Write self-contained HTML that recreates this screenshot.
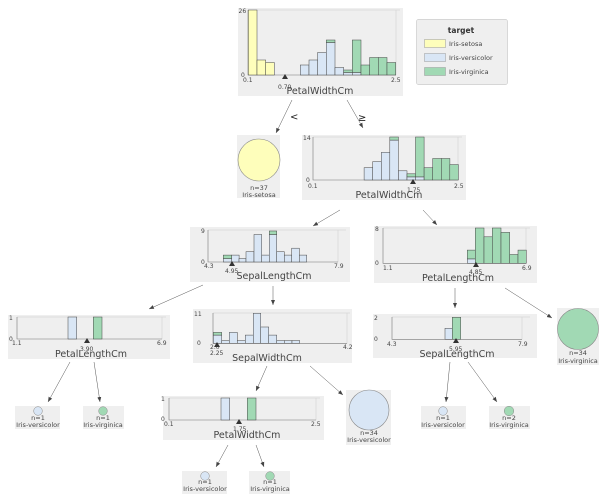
<!DOCTYPE html>
<html><head><meta charset="utf-8"><style>
html,body{margin:0;padding:0;background:#fff;}
svg{display:block;font-family:"DejaVu Sans","Liberation Sans",sans-serif;}
.p{fill:#efefef;}
.s{fill:#fefebb;stroke:#444;stroke-width:.5}
.v{fill:#d9e6f5;stroke:#444;stroke-width:.5}
.g{fill:#a1d9b4;stroke:#444;stroke-width:.5}
.ax{stroke:#777;stroke-width:.6;fill:none}
.lt{stroke:#d8d8d8;stroke-width:.8;fill:none}
.t{font-size:6px;fill:#444}
.l{font-size:9.5px;fill:#444}
.lf{font-size:6.5px;fill:#444}
.e{stroke:#555;stroke-width:.5;fill:none;marker-end:url(#ah)}
</style></head><body>
<svg width="606" height="502" viewBox="0 0 606 502" xmlns="http://www.w3.org/2000/svg">
<defs><marker id="ah" markerWidth="6" markerHeight="6" refX="5" refY="3" orient="auto" markerUnits="userSpaceOnUse"><path d="M0,1 L5,3 L0,5 z" fill="#444"/></marker></defs>

<!-- root -->
<rect class="p" x="238" y="8" width="165" height="88"/>
<path class="lt" d="M248,10 H400 M396,10 V75"/>
<path class="ax" d="M248,10 V75 H396"/>
<rect class="s" x="248.3" y="10" width="8.7" height="65"/>
<rect class="s" x="257" y="60" width="8.7" height="15"/>
<rect class="s" x="265.6" y="62.5" width="8.7" height="12.5"/>
<rect class="v" x="300.3" y="65" width="8.7" height="10"/>
<rect class="v" x="309" y="60" width="8.7" height="15"/>
<rect class="v" x="317.6" y="52.5" width="8.7" height="22.5"/>
<rect class="v" x="326.3" y="42.5" width="8.7" height="32.5"/><rect class="g" x="326.3" y="40" width="8.7" height="2.5"/>
<rect class="v" x="335" y="67.5" width="8.7" height="7.5"/>
<rect class="v" x="343.6" y="72.5" width="8.7" height="2.5"/><rect class="g" x="343.6" y="70" width="8.7" height="2.5"/>
<rect class="v" x="352.3" y="72.5" width="8.7" height="2.5"/><rect class="g" x="352.3" y="40" width="8.7" height="32.5"/>
<rect class="g" x="361" y="65" width="8.7" height="10"/>
<rect class="g" x="369.6" y="57.5" width="8.7" height="17.5"/>
<rect class="g" x="378.3" y="57.5" width="8.7" height="17.5"/>
<rect class="g" x="387" y="62.5" width="8.7" height="12.5"/>
<text class="t" x="238.5" y="13">26</text><text class="t" x="241" y="77">0</text>
<text class="t" x="243" y="82">0.1</text><text class="t" x="391" y="82">2.5</text>
<path d="M285,74 L282,79 L288,79 z" fill="#333"/>
<text class="t" x="278" y="89">0.70</text>
<text class="l" x="320" y="94" text-anchor="middle">PetalWidthCm</text>

<!-- legend -->
<rect x="416.5" y="19.5" width="91" height="65" rx="2" fill="#efefef" stroke="#ccc" stroke-width=".7"/>
<text x="461" y="33" font-size="7.5" font-weight="bold" fill="#333" text-anchor="middle">target</text>
<rect x="424.5" y="39.5" width="21" height="8" fill="#fefebb" stroke="#999" stroke-width=".5"/>
<rect x="424.5" y="53.5" width="21" height="8" fill="#d9e6f5" stroke="#999" stroke-width=".5"/>
<rect x="424.5" y="67.5" width="21" height="8" fill="#a1d9b4" stroke="#999" stroke-width=".5"/>
<text class="lf" x="449" y="46">Iris-setosa</text>
<text class="lf" x="449" y="60">Iris-versicolor</text>
<text class="lf" x="449" y="74">Iris-virginica</text>

<!-- root edges -->
<path class="e" d="M292,100 L276,133"/>
<path class="e" d="M347,100 L363,128"/>
<text x="290" y="120" font-size="10" fill="#222">&lt;</text>
<text x="358" y="121" font-size="10" fill="#222">≥</text>

<!-- leaf setosa -->
<rect class="p" x="237" y="135" width="43" height="63"/>
<circle cx="259" cy="160" r="21" fill="#fefebb" stroke="#888" stroke-width=".6"/>
<text class="lf" x="259" y="190" text-anchor="middle">n=37</text>
<text class="lf" x="259" y="197" text-anchor="middle">Iris-setosa</text>

<!-- node3 -->
<rect class="p" x="302" y="135" width="164" height="65"/>
<path class="lt" d="M313,137 H462 M458,137 V180"/>
<path class="ax" d="M313,137 V180 H458"/>
<rect class="v" x="364.1" y="167.7" width="8.6" height="12.3"/>
<rect class="v" x="372.7" y="161.6" width="8.6" height="18.4"/>
<rect class="v" x="381.3" y="152.4" width="8.6" height="27.6"/>
<rect class="v" x="389.8" y="140.1" width="8.6" height="39.9"/><rect class="g" x="389.8" y="137" width="8.6" height="3.1"/>
<rect class="v" x="398.4" y="170.8" width="8.6" height="9.2"/>
<rect class="v" x="407" y="176.9" width="8.6" height="3.1"/><rect class="g" x="407" y="173.8" width="8.6" height="3.1"/>
<rect class="v" x="415.5" y="176.9" width="8.6" height="3.1"/><rect class="g" x="415.5" y="137" width="8.6" height="39.9"/>
<rect class="g" x="424.1" y="167.7" width="8.6" height="12.3"/>
<rect class="g" x="432.7" y="158.5" width="8.6" height="21.5"/>
<rect class="g" x="441.3" y="158.5" width="8.6" height="21.5"/>
<rect class="g" x="449.8" y="164.6" width="8.6" height="15.4"/>
<text class="t" x="303" y="140">14</text><text class="t" x="306" y="182">0</text>
<text class="t" x="308" y="188">0.1</text><text class="t" x="454" y="188">2.5</text>
<path d="M413,179 L410,184 L416,184 z" fill="#333"/>
<text class="t" x="407" y="192">1.75</text>
<text class="l" x="389" y="198" text-anchor="middle">PetalWidthCm</text>

<path class="e" d="M340,210 L313,226"/>
<path class="e" d="M423,210 L437,225"/>

<!-- node4 SepalLength -->
<rect class="p" x="190" y="227" width="160" height="55"/>
<path class="lt" d="M208,230 H346 M338,230 V262"/>
<path class="ax" d="M208,230 V262 H338"/>
<rect class="v" x="223.3" y="258.6" width="8.4" height="3.4"/><rect class="g" x="223.3" y="255.1" width="8.4" height="3.5"/>
<rect class="v" x="231.7" y="255.1" width="7.4" height="6.9"/>
<rect class="v" x="239" y="258.6" width="7" height="3.4"/>
<rect class="v" x="246" y="251.7" width="8" height="10.3"/>
<rect class="v" x="254" y="234.5" width="7.7" height="27.5"/>
<rect class="v" x="261.7" y="255.1" width="7.6" height="6.9"/>
<rect class="v" x="269.3" y="234.5" width="7.4" height="27.5"/><rect class="g" x="269.3" y="231" width="7.4" height="3.5"/>
<rect class="v" x="276.7" y="251.7" width="7.6" height="10.3"/>
<rect class="v" x="284.3" y="255.1" width="7.4" height="6.9"/>
<rect class="v" x="291.7" y="248.2" width="7.6" height="13.8"/>
<rect class="v" x="299.3" y="255.1" width="7.4" height="6.9"/>
<text class="t" x="201" y="233">9</text><text class="t" x="201" y="264">0</text>
<text class="t" x="204" y="268">4.3</text><text class="t" x="334" y="268">7.9</text>
<path d="M232,261 L229,266 L235,266 z" fill="#333"/>
<text class="t" x="225" y="273">4.95</text>
<text class="l" x="274" y="279" text-anchor="middle">SepalLengthCm</text>

<!-- node5 PetalLength -->
<rect class="p" x="374" y="226" width="163" height="57"/>
<path class="lt" d="M383,228 H530 M526,228 V263.3"/>
<path class="ax" d="M383,228 V263.3 H526"/>
<rect class="v" x="467.3" y="258.9" width="8" height="4.4"/><rect class="g" x="467.3" y="250.1" width="8" height="8.8"/>
<rect class="g" x="475.3" y="228" width="8.7" height="35.3"/>
<rect class="g" x="484" y="236.8" width="8.3" height="26.5"/>
<rect class="g" x="492.3" y="228" width="8.7" height="35.3"/>
<rect class="g" x="501" y="232.4" width="8.7" height="30.9"/>
<rect class="g" x="509.7" y="254.5" width="8.3" height="8.8"/>
<rect class="g" x="518" y="250.1" width="8.3" height="13.2"/>
<text class="t" x="375" y="231">8</text><text class="t" x="375" y="265">0</text>
<text class="t" x="383" y="270">1.1</text><text class="t" x="522" y="270">6.9</text>
<path d="M476,262 L473,267 L479,267 z" fill="#333"/>
<text class="t" x="469" y="274">4.85</text>
<text class="l" x="458" y="281" text-anchor="middle">PetalLengthCm</text>

<path class="e" d="M203,285 L149,309"/>
<path class="e" d="M273,286 L273,305"/>
<path class="e" d="M455,288 L455,308"/>
<path class="e" d="M505,288 L552,318"/>

<!-- node6 -->
<rect class="p" x="8" y="315" width="162" height="44"/>
<path class="lt" d="M17,317 H166 M162,317 V339"/>
<path class="ax" d="M17,317 V339 H162"/>
<rect class="v" x="68" y="317" width="8.7" height="22"/>
<rect class="g" x="93.3" y="317" width="8.7" height="22"/>
<text class="t" x="9" y="320">1</text><text class="t" x="9" y="341">0</text>
<text class="t" x="12" y="345">1.1</text><text class="t" x="157" y="345">6.9</text>
<path d="M87,338 L84,343 L90,343 z" fill="#333"/>
<text class="t" x="80" y="351">3.90</text>
<text class="l" x="91" y="357" text-anchor="middle">PetalLengthCm</text>

<!-- node7 SepalWidth -->
<rect class="p" x="193" y="309" width="159" height="54"/>
<path class="lt" d="M213,313 H350 M347,313 V343.3"/>
<path class="ax" d="M213,313 V343.3 H347"/>
<rect class="v" x="213.3" y="335.1" width="8.4" height="8.2"/><rect class="g" x="213.3" y="332.4" width="8.4" height="2.7"/>
<rect class="v" x="221.7" y="340.6" width="7.6" height="2.7"/>
<rect class="v" x="229.3" y="332.4" width="8" height="10.9"/>
<rect class="v" x="237.3" y="340.6" width="8" height="2.7"/>
<rect class="v" x="245.3" y="335.1" width="8" height="8.2"/>
<rect class="v" x="253.3" y="313.3" width="7.4" height="30"/>
<rect class="v" x="260.7" y="327" width="8" height="16.3"/>
<rect class="v" x="268.7" y="335.1" width="8" height="8.2"/>
<rect class="v" x="276.7" y="340.6" width="7.6" height="2.7"/>
<rect class="v" x="284.3" y="340.6" width="7.7" height="2.7"/>
<rect class="v" x="292" y="340.6" width="7.7" height="2.7"/>
<text class="t" x="194" y="316">11</text><text class="t" x="197" y="345">0</text>
<text class="t" x="210" y="349">2.0</text><text class="t" x="343" y="349">4.2</text>
<path d="M217,342 L214,347 L220,347 z" fill="#333"/>
<text class="t" x="210" y="355">2.25</text>
<text class="l" x="267" y="361" text-anchor="middle">SepalWidthCm</text>

<!-- node8 -->
<rect class="p" x="373" y="314" width="164" height="44"/>
<path class="lt" d="M392,317 H530 M522,317 V339.3"/>
<path class="ax" d="M392,317 V339.3 H522"/>
<rect class="v" x="445" y="328.3" width="7.3" height="11"/>
<rect class="g" x="452.3" y="317.3" width="8.4" height="22"/>
<text class="t" x="374" y="320">2</text><text class="t" x="374" y="341">0</text>
<text class="t" x="387" y="346">4.3</text><text class="t" x="518" y="346">7.9</text>
<path d="M456,338 L453,343 L459,343 z" fill="#333"/>
<text class="t" x="449" y="351">5.95</text>
<text class="l" x="457" y="357" text-anchor="middle">SepalLengthCm</text>

<!-- leaf virginica 34 -->
<rect class="p" x="557" y="308" width="42" height="57"/>
<circle cx="578" cy="329" r="20.5" fill="#a1d9b4" stroke="#888" stroke-width=".6"/>
<text class="lf" x="578" y="355" text-anchor="middle">n=34</text>
<text class="lf" x="578" y="363" text-anchor="middle">Iris-virginica</text>

<!-- edges level 4 -->
<path class="e" d="M70,362 L48,402"/>
<path class="e" d="M94,362 L100,402"/>
<path class="e" d="M267,366 L256,391"/>
<path class="e" d="M310,366 L343,395"/>
<path class="e" d="M450,362 L446,402"/>
<path class="e" d="M468,362 L497,402"/>

<!-- small leaves -->
<rect class="p" x="15" y="406" width="45" height="23"/>
<circle cx="38" cy="411" r="4.3" fill="#d9e6f5" stroke="#888" stroke-width=".5"/>
<text class="lf" x="38" y="420" text-anchor="middle">n=1</text><text class="lf" x="38" y="427" text-anchor="middle">Iris-versicolor</text>
<rect class="p" x="83" y="406" width="41" height="23"/>
<circle cx="103" cy="411" r="4.3" fill="#a1d9b4" stroke="#888" stroke-width=".5"/>
<text class="lf" x="103" y="420" text-anchor="middle">n=1</text><text class="lf" x="103" y="427" text-anchor="middle">Iris-virginica</text>
<rect class="p" x="421" y="406" width="45" height="23"/>
<circle cx="443" cy="411" r="4.3" fill="#d9e6f5" stroke="#888" stroke-width=".5"/>
<text class="lf" x="443" y="420" text-anchor="middle">n=1</text><text class="lf" x="443" y="427" text-anchor="middle">Iris-versicolor</text>
<rect class="p" x="489" y="406" width="41" height="23"/>
<circle cx="509" cy="411" r="4.8" fill="#a1d9b4" stroke="#888" stroke-width=".5"/>
<text class="lf" x="509" y="420" text-anchor="middle">n=2</text><text class="lf" x="509" y="427" text-anchor="middle">Iris-virginica</text>

<!-- node9 -->
<rect class="p" x="163" y="396" width="161" height="44"/>
<path class="lt" d="M169,398 H320 M316,398 V420"/>
<path class="ax" d="M169,398 V420 H316"/>
<rect class="v" x="221" y="398" width="8.7" height="22"/>
<rect class="g" x="247.3" y="398" width="8.7" height="22"/>
<text class="t" x="161" y="401">1</text><text class="t" x="161" y="421">0</text>
<text class="t" x="164" y="426">0.1</text><text class="t" x="311" y="426">2.5</text>
<path d="M239,419 L236,424 L242,424 z" fill="#333"/>
<text class="t" x="233" y="431">1.75</text>
<text class="l" x="247" y="438" text-anchor="middle">PetalWidthCm</text>

<!-- leaf versicolor 34 -->
<rect class="p" x="346" y="390" width="45" height="55"/>
<circle cx="369" cy="410" r="20" fill="#d9e6f5" stroke="#888" stroke-width=".6"/>
<text class="lf" x="369" y="435" text-anchor="middle">n=34</text>
<text class="lf" x="369" y="442" text-anchor="middle">Iris-versicolor</text>

<path class="e" d="M228,445 L216,467"/>
<path class="e" d="M256,445 L264,467"/>

<rect class="p" x="182" y="471" width="45" height="23"/>
<circle cx="205" cy="476" r="4.3" fill="#d9e6f5" stroke="#888" stroke-width=".5"/>
<text class="lf" x="205" y="484" text-anchor="middle">n=1</text><text class="lf" x="205" y="491" text-anchor="middle">Iris-versicolor</text>
<rect class="p" x="249" y="471" width="41" height="23"/>
<circle cx="270" cy="476" r="4.3" fill="#a1d9b4" stroke="#888" stroke-width=".5"/>
<text class="lf" x="270" y="484" text-anchor="middle">n=1</text><text class="lf" x="270" y="491" text-anchor="middle">Iris-virginica</text>
</svg>
</body></html>
